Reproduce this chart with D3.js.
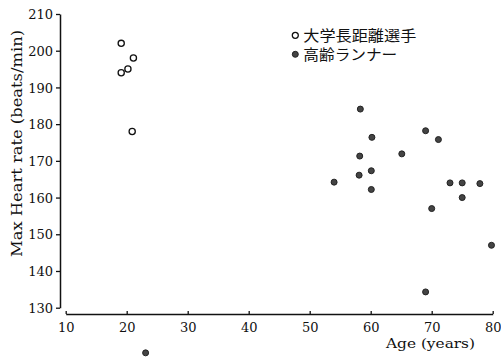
<!DOCTYPE html>
<html>
<head>
<meta charset="utf-8">
<script src="https://cdn.jsdelivr.net/npm/d3@7"></script>
<style>
  html, body { margin: 0; padding: 0; background: #fff; }
  svg { display: block; }
</style>
</head>
<body>
<div id="chart"></div>
<script>
// Max heart rate vs age: college distance runners vs elderly runners
const xTicks = [10, 20, 30, 40, 50, 60, 70, 80];
const yTicks = [130, 140, 150, 160, 170, 180, 190, 200, 210];

const studentAge = [19.1, 21.1, 20.2, 19.1, 20.9];
const studentHR  = [202, 198, 195, 194, 178];

const elderAge = [58.3, 60.2, 69.0, 71.1, 58.2, 65.1, 60.1, 58.1, 54.0, 60.1, 73.0, 75.0, 77.9, 75.0, 70.0, 79.8, 69.0, 23.1];
const elderHR  = [184.1, 176.4, 178.2, 175.8, 171.3, 171.9, 167.3, 166.1, 164.2, 162.2, 164.0, 164.0, 163.8, 160.0, 157.0, 147.0, 134.3, 117.7];

const legendLabels = ["大学長距離選手", "高齢ランナー"];
const xTitle = "Age (years)";
const yTitle = "Max Heart rate (beats/min)";

const W = 501, H = 364;
const serif = "'DejaVu Serif', 'Liberation Serif', serif";
const cjk = "'Noto Sans CJK JP', 'Noto Sans CJK SC', sans-serif";

const svg = d3.select("#chart").append("svg")
  .attr("width", W).attr("height", H);

const x = d3.scaleLinear().domain([10, 80]).range([65.7, 492.7]);
const y = d3.scaleLinear().domain([130, 210]).range([307.7, 14]);

// Y axis (detached from the x axis, ticks pointing outward)
const gy = svg.append("g")
  .attr("transform", "translate(60,0)")
  .call(d3.axisLeft(y).tickValues(yTicks).tickSizeInner(4).tickSizeOuter(0).tickPadding(3).tickFormat(d3.format("d")));
gy.select(".domain").attr("stroke", "#111").attr("stroke-width", 1.5);
gy.selectAll(".tick line").attr("stroke", "#111").attr("stroke-width", 1.3);
gy.selectAll(".tick text")
  .attr("font-family", serif).attr("font-size", 13).attr("fill", "#111")
  .attr("dy", "0.36em");

// X axis (ticks pointing up into the plot)
const gx = svg.append("g")
  .attr("transform", "translate(0,314)")
  .call(d3.axisBottom(x).tickValues(xTicks).tickSizeInner(-3).tickSizeOuter(0).tickPadding(9).tickFormat(d3.format("d")));
gx.select(".domain").attr("stroke", "#111").attr("stroke-width", 1.5);
gx.selectAll(".tick line").attr("stroke", "#111").attr("stroke-width", 1.3);
gx.selectAll(".tick text")
  .attr("font-family", serif).attr("font-size", 13).attr("fill", "#111");

// Axis titles
svg.append("text")
  .attr("x", 386).attr("y", 348)
  .attr("font-family", serif).attr("font-size", 13.5).attr("fill", "#111")
  .attr("textLength", 89).attr("lengthAdjust", "spacingAndGlyphs")
  .text(xTitle);

svg.append("text")
  .attr("transform", "translate(22,257) rotate(-90)")
  .attr("font-family", serif).attr("font-size", 14.5).attr("fill", "#111")
  .attr("textLength", 227).attr("lengthAdjust", "spacingAndGlyphs")
  .text(yTitle);

// College runners: open circles
svg.append("g").selectAll("circle")
  .data(d3.zip(studentAge, studentHR))
  .join("circle")
  .attr("cx", d => x(d[0])).attr("cy", d => y(d[1]))
  .attr("r", 3.1)
  .attr("fill", "#fff").attr("stroke", "#111").attr("stroke-width", 1.3);

// Elderly runners: filled circles
svg.append("g").selectAll("circle")
  .data(d3.zip(elderAge, elderHR))
  .join("circle")
  .attr("cx", d => x(d[0])).attr("cy", d => y(d[1]))
  .attr("r", 3)
  .attr("fill", "#444").attr("stroke", "#222").attr("stroke-width", 1);

// Legend
const legend = svg.append("g").attr("transform", "translate(295.3,35.3)");
legend.append("circle").attr("cx", 0).attr("cy", 0).attr("r", 3)
  .attr("fill", "#fff").attr("stroke", "#111").attr("stroke-width", 1.3);
legend.append("circle").attr("cx", 0).attr("cy", 19).attr("r", 3)
  .attr("fill", "#444").attr("stroke", "#222").attr("stroke-width", 1);
legend.selectAll("text")
  .data(legendLabels)
  .join("text")
  .attr("x", 8).attr("y", (d, i) => i * 19 + 5.5)
  .attr("font-family", cjk).attr("font-size", 15).attr("fill", "#111")
  .attr("textLength", (d, i) => i === 0 ? 113 : 94)
  .attr("lengthAdjust", "spacingAndGlyphs")
  .text(d => d);
</script>
</body>
</html>
